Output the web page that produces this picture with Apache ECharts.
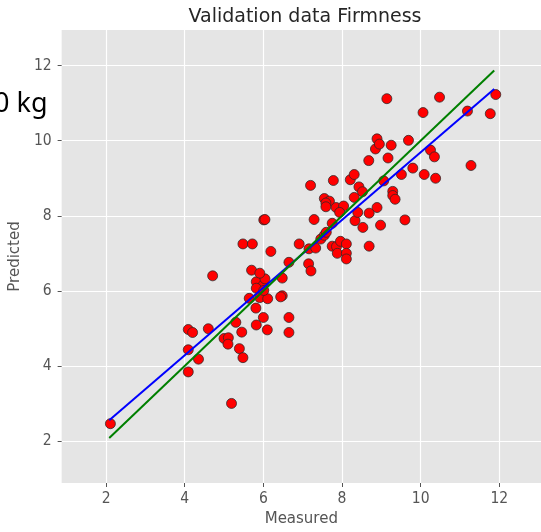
<!DOCTYPE html>
<html>
<head>
<meta charset="utf-8">
<script src="https://cdn.jsdelivr.net/npm/echarts@6/dist/echarts.min.js"></script>
<style>
  html, body { margin: 0; padding: 0; background: #fff; }
  #chart { width: 541px; height: 532px; }
</style>
</head>
<body>
<div id="chart"></div>
<script>
// measured vs predicted firmness
var measured = [
    2.11, 4.09, 4.20, 4.60, 4.09, 4.35, 4.09, 5.19, 5.00, 5.11,
    5.10, 5.30, 5.45, 5.39, 5.48, 4.71, 5.81, 6.00, 5.82, 6.10,
    6.65, 6.65, 5.64, 5.91, 6.11, 6.48, 6.44, 5.82, 6.00, 6.04,
    5.82, 6.01, 5.70, 5.91, 6.48, 6.65, 6.19, 5.48, 5.72, 6.01,
    6.04, 6.91, 7.15, 7.21, 7.16, 7.33, 7.46, 7.55, 7.60, 7.75,
    7.86, 7.96, 8.11, 7.88, 8.11, 8.11, 8.69, 7.29, 7.75, 8.33,
    8.53, 8.98, 9.60, 7.55, 7.68, 7.59, 7.59, 7.85, 8.04, 7.94,
    8.40, 8.89, 8.69, 7.20, 7.78, 8.21, 8.31, 8.43, 8.52, 8.31,
    9.06, 9.29, 9.29, 9.35, 9.80, 9.51, 10.09, 10.38, 8.68, 9.17,
    8.85, 8.89, 8.95, 9.25, 9.69, 10.25, 10.35, 11.28, 9.14, 10.48,
    11.91, 10.06, 11.19, 11.77
];
var predicted = [
    2.46, 4.97, 4.89, 4.99, 4.43, 4.18, 3.84, 3.00, 4.73, 4.75,
    4.58, 5.16, 4.90, 4.46, 4.22, 6.40, 5.54, 5.29, 5.09, 4.96,
    5.29, 4.89, 5.80, 5.82, 5.79, 5.87, 5.84, 6.24, 6.16, 6.32,
    6.07, 6.01, 6.55, 6.47, 6.34, 6.76, 7.05, 7.25, 7.25, 7.89,
    7.90, 7.25, 6.72, 6.53, 7.12, 7.14, 7.38, 7.48, 7.56, 7.19,
    7.18, 7.32, 7.25, 7.00, 7.00, 6.85, 7.19, 7.90, 7.80, 7.87,
    7.69, 7.75, 7.89, 8.46, 8.39, 8.34, 8.24, 8.22, 8.26, 8.09,
    8.09, 8.22, 8.07, 8.81, 8.94, 8.96, 9.10, 8.77, 8.64, 8.49,
    8.93, 8.65, 8.54, 8.44, 9.27, 9.10, 9.10, 9.00, 9.47, 9.54,
    9.78, 10.05, 9.91, 9.88, 10.01, 9.75, 9.57, 9.34, 11.12, 11.16,
    11.23, 10.75, 10.79, 10.72
];
// end points of the two lines
var lineX = [2.08, 11.87];
var fitY = [2.55, 11.38];   // blue: regression fit
var idealY = [2.08, 11.87]; // green: y = x
var tickValues = [2, 4, 6, 8, 10, 12];

var points = measured.map(function (m, i) { return [m, predicted[i]]; });
var fitLine = lineX.map(function (x, i) { return [x, fitY[i]]; });
var idealLine = lineX.map(function (x, i) { return [x, idealY[i]]; });

var tickFont = {
    color: "#555",
    fontFamily: "'Liberation Sans Narrow', 'DejaVu Sans Condensed', sans-serif",
    fontSize: 15.5
};

var myChart = echarts.init(document.getElementById("chart"));
var option = {
    animation: false,
    title: {
        text: "Validation data Firmness",
        left: 300,
        top: 3,
        textAlign: "center",
        textStyle: {
            fontFamily: "'DejaVu Sans'",
            fontSize: 19,
            fontWeight: "normal",
            color: "#262626"
        }
    },
    graphic: [
        {
            type: "text",
            left: -6,
            top: 91,
            style: {
                text: "0 kg",
                font: "27px 'Noto Sans'",
                fill: "#000"
            }
        }
    ],
    grid: {
        left: 60.5,
        right: 0,
        top: 30,
        bottom: 45,
        show: true,
        backgroundColor: "#E5E5E5",
        borderWidth: 0
    },
    xAxis: {
        type: "value",
        min: 0.87,
        max: 13.06,
        name: "Measured",
        nameLocation: "middle",
        nameGap: 29,
        nameTextStyle: { color: "#555", fontFamily: "'DejaVu Sans'", fontSize: 15 },
        axisLine: { show: false },
        axisTick: { show: true, length: 4, customValues: tickValues, lineStyle: { color: "#555" } },
        axisLabel: Object.assign({ margin: 8, customValues: tickValues }, tickFont),
        splitLine: { show: true, lineStyle: { color: "#fff", width: 1.2 } }
    },
    yAxis: {
        type: "value",
        min: 0.88,
        max: 12.95,
        name: "Predicted",
        nameLocation: "middle",
        nameGap: 29,
        nameTextStyle: { color: "#555", fontFamily: "'DejaVu Sans'", fontSize: 15 },
        axisLine: { show: false },
        axisTick: { show: true, length: 4, customValues: tickValues, lineStyle: { color: "#555" } },
        axisLabel: Object.assign({ margin: 10, customValues: tickValues }, tickFont),
        splitLine: { show: true, lineStyle: { color: "#fff", width: 1.2 } }
    },
    series: [
        {
            type: "scatter",
            data: points,
            symbolSize: 10,
            z: 2,
            itemStyle: {
                color: "#FF0000",
                borderColor: "rgba(40,40,40,0.75)",
                borderWidth: 1,
                opacity: 1
            }
        },
        {
            type: "line",
            data: fitLine,
            showSymbol: false,
            z: 3,
            lineStyle: { color: "#0000FF", width: 2 }
        },
        {
            type: "line",
            data: idealLine,
            showSymbol: false,
            z: 4,
            lineStyle: { color: "#008000", width: 2 }
        }
    ]
};

option && myChart.setOption(option);
</script>
</body>
</html>
